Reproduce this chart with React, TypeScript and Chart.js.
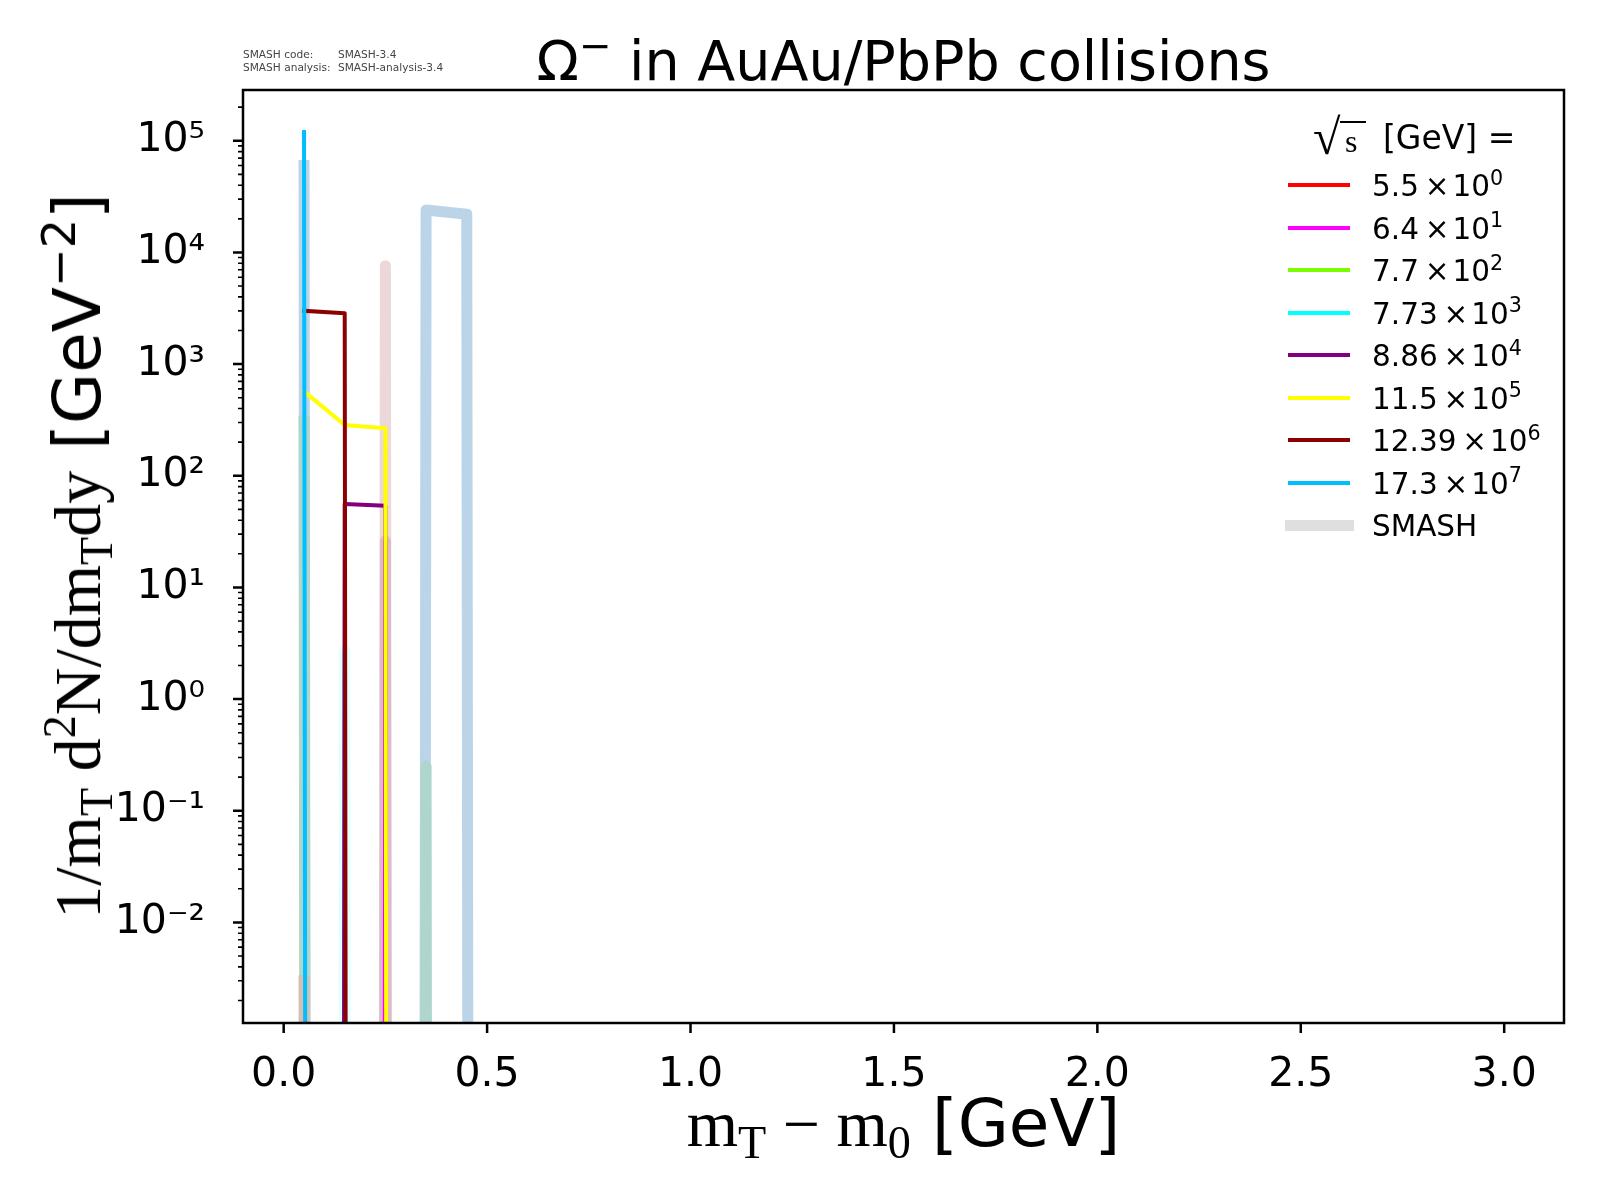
import React, { useEffect, useRef } from "react";
import { Chart, registerables } from "chart.js";

Chart.register(...registerables);

// bin centres of m_T - m_0 [GeV]
const BIN_CENTERS = [0.05, 0.15, 0.25, 0.35, 0.45, 0.55];

// sqrt(s) legend entries: mantissa x 10^exponent
const SQRT_S = ["5.5", "6.4", "7.7", "7.73", "8.86", "11.5", "12.39", "17.3"];
const SQRT_S_EXP = ["0", "1", "2", "3", "4", "5", "6", "7"];
const LINE_COLORS = ["red", "magenta", "lawngreen", "cyan", "purple", "yellow", "darkred", "deepskyblue"];

// spectra per energy (0 = empty bin)
const DATA_5_5 = [0, 0, 0, 0, 0, 0];
const DATA_6_4 = [0, 0, 26, 0, 0, 0];
const DATA_7_7 = [0, 0, 0, 0, 0, 0];
const DATA_7_73 = [0, 2.7, 0, 0, 0, 0];
const DATA_8_86 = [0, 56, 54, 0, 0, 0];
const DATA_11_5 = [570, 285, 266, 0, 0, 0];
const DATA_12_39 = [3000, 2850, 0, 0, 0, 0];
const DATA_17_3 = [120000, 0, 0, 0, 0, 0];

// SMASH curves (thick, pale)
const SMASH_BLUE = [60000, 0, 0, 24000, 22000, 0];
const SMASH_TEAL = [310, 0, 0, 0.25, 0, 0];
const SMASH_PINK = [0, 0, 7600, 0, 0, 0];
const SMASH_MAUVE = [0, 0, 26, 0, 0, 0];
const SMASH_CYAN = [0, 2.7, 0, 0, 0, 0];
const SMASH_TAN = [0.003, 0, 0, 0, 0, 0];

const X_TICKS = [0, 0.5, 1, 1.5, 2, 2.5, 3];
const Y_TICKS = [1e-2, 1e-1, 1, 1e1, 1e2, 1e3, 1e4, 1e5];
const X_MIN = -0.1;
const X_MAX = 3.147;
const Y_MIN = 1.256e-3;
const Y_MAX = 2.85e5;

const SANS = "'DejaVu Sans', sans-serif";
const SERIF = "'Liberation Serif', 'DejaVu Serif', serif";

const SUPER: Record<string, string> = { "-": "\u207B", "0": "\u2070", "1": "\u00B9", "2": "\u00B2", "3": "\u00B3", "4": "\u2074", "5": "\u2075" };

// log axis clips empty bins far below the frame, like matplotlib does
const toPoints = (arr: number[]) => BIN_CENTERS.map((x, i) => ({ x, y: arr[i] > 0 ? arr[i] : 1e-300 }));

const axesPlugin = {
  id: "mplAxes",
  afterDatasetsDraw(chart: any) {
    const { ctx, chartArea: a, scales } = chart;
    const xs = scales.x;
    const ys = scales.y;
    ctx.save();
    ctx.strokeStyle = "#000";
    ctx.lineCap = "butt";
    ctx.lineWidth = 2.5;
    ctx.beginPath();
    X_TICKS.forEach((v) => {
      const px = xs.getPixelForValue(v);
      ctx.moveTo(px, a.bottom);
      ctx.lineTo(px, a.bottom + 10);
    });
    Y_TICKS.forEach((v) => {
      const py = ys.getPixelForValue(v);
      ctx.moveTo(a.left, py);
      ctx.lineTo(a.left - 10, py);
    });
    ctx.stroke();
    ctx.lineWidth = 1.6;
    ctx.beginPath();
    for (let e = -3; e <= 5; e++) {
      for (let m = 2; m <= 9; m++) {
        const v = m * Math.pow(10, e);
        if (v < Y_MIN || v > Y_MAX) continue;
        const py = ys.getPixelForValue(v);
        ctx.moveTo(a.left, py);
        ctx.lineTo(a.left - 5, py);
      }
    }
    ctx.stroke();
    ctx.lineWidth = 2.5;
    ctx.strokeRect(a.left, a.top, a.right - a.left, a.bottom - a.top);
    ctx.restore();
  },
};

function Sup({ children }: { children: React.ReactNode }) {
  return <span style={{ fontSize: "0.7em", position: "relative", top: "-0.55em", lineHeight: 0 }}>{children}</span>;
}
function Sub({ children }: { children: React.ReactNode }) {
  return <span style={{ fontSize: "0.7em", position: "relative", top: "0.25em", lineHeight: 0 }}>{children}</span>;
}

export default function App() {
  const chartRef = useRef<HTMLCanvasElement>(null);

  useEffect(() => {
    if (!chartRef.current) return;

    const thin = (arr: number[], color: string, order: number) => ({
      data: toPoints(arr),
      borderColor: color,
      borderWidth: 4,
      order,
    });
    const thick = (arr: number[], color: string, order: number) => ({
      data: toPoints(arr),
      borderColor: color,
      borderWidth: 11,
      order,
    });

    const datasets = [
      thin(DATA_17_3, LINE_COLORS[7], 1),
      thin(DATA_12_39, LINE_COLORS[6], 2),
      thin(DATA_11_5, LINE_COLORS[5], 3),
      thin(DATA_8_86, LINE_COLORS[4], 4),
      thin(DATA_7_73, LINE_COLORS[3], 5),
      thin(DATA_7_7, LINE_COLORS[2], 6),
      thin(DATA_6_4, LINE_COLORS[1], 7),
      thin(DATA_5_5, LINE_COLORS[0], 8),
      thick(SMASH_TAN, "#d5beb3", 9),
      thick(SMASH_CYAN, "#e0ffff", 10),
      thick(SMASH_MAUVE, "#dcb9cd", 11),
      thick(SMASH_PINK, "#ecd8d8", 12),
      thick(SMASH_TEAL, "#aed6cc", 13),
      thick(SMASH_BLUE, "#bcd4e8", 14),
    ].map((d) => ({
      ...d,
      pointRadius: 0,
      tension: 0,
      clip: 0,
      fill: false,
      borderJoinStyle: "round",
      borderCapStyle: "square",
    }));

    const config: any = {
      type: "line",
      data: { datasets },
      options: {
        animation: false,
        responsive: false,
        devicePixelRatio: 1,
        layout: { padding: { left: 0, top: 90, right: 36, bottom: 0 } },
        plugins: { legend: { display: false }, title: { display: false }, tooltip: { enabled: false } },
        scales: {
          x: {
            type: "linear",
            min: X_MIN,
            max: X_MAX,
            afterBuildTicks: (scale: any) => {
              scale.ticks = X_TICKS.map((value) => ({ value }));
            },
            afterFit: (scale: any) => {
              scale.height = 177;
            },
            grid: { display: false },
            border: { display: false },
            ticks: {
              autoSkip: false,
              maxRotation: 0,
              padding: 20,
              color: "#000",
              font: { family: SANS, size: 41 },
              callback: (v: number) => v.toFixed(1),
            },
          },
          y: {
            type: "logarithmic",
            min: Y_MIN,
            max: Y_MAX,
            afterBuildTicks: (scale: any) => {
              scale.ticks = Y_TICKS.map((value) => ({ value }));
            },
            afterFit: (scale: any) => {
              scale.width = 243;
            },
            grid: { display: false },
            border: { display: false },
            ticks: {
              autoSkip: false,
              padding: 30,
              color: "#000",
              font: { family: SANS, size: 41 },
              callback: (v: number) =>
                "10" + String(Math.round(Math.log10(v))).split("").map((c) => SUPER[c]).join(""),
            },
          },
        },
      },
      plugins: [axesPlugin],
    };

    const chart = new Chart(chartRef.current, config);
    return () => {
      chart.destroy();
    };
  }, []);

  const rowTop = (i: number) => 185 + i * 42.5;

  return (
    <div style={{ position: "absolute", left: 0, top: 0, width: 1600, height: 1200, background: "#fff", fontFamily: SANS, color: "#000" }}>
      <canvas ref={chartRef} width={1600} height={1200} style={{ display: "block" }}></canvas>

      <div style={{ position: "absolute", left: 243, top: 48, fontSize: 10.6, lineHeight: "12.5px", color: "#444", whiteSpace: "pre" }}>
        <div>SMASH code:</div>
        <div>SMASH analysis:</div>
      </div>
      <div style={{ position: "absolute", left: 338, top: 48, fontSize: 10.6, lineHeight: "12.5px", color: "#444", whiteSpace: "pre" }}>
        <div>SMASH-3.4</div>
        <div>SMASH-analysis-3.4</div>
      </div>

      <div style={{ position: "absolute", left: 243, width: 1321, top: 33, fontSize: 55.5, lineHeight: "55px", textAlign: "center", whiteSpace: "nowrap" }}>
        Ω<Sup>−</Sup> in AuAu/PbPb collisions
      </div>

      <div style={{ position: "absolute", left: 243, width: 1321, top: 1091, fontSize: 66, lineHeight: "66px", textAlign: "center", whiteSpace: "nowrap" }}>
        <span style={{ fontFamily: SERIF }}>
          m<Sub>T</Sub> − m<Sub>0</Sub>
        </span>{" "}
        [GeV]
      </div>

      <div
        style={{
          position: "absolute",
          left: 78,
          top: 556,
          fontSize: 66,
          lineHeight: "66px",
          whiteSpace: "nowrap",
          transform: "translate(-50%, -50%) rotate(-90deg)",
        }}
      >
        <span style={{ fontFamily: SERIF }}>
          1/m<Sub>T</Sub> d<Sup>2</Sup>N/dm<Sub>T</Sub>dy
        </span>{" "}
        [GeV<Sup>−2</Sup>]
      </div>

      {/* legend title: sqrt(s) [GeV] = */}
      <div style={{ position: "absolute", left: 1313, top: 112, fontFamily: SERIF, fontSize: 50, lineHeight: "50px" }}>√</div>
      <div style={{ position: "absolute", left: 1340, top: 121, width: 26, height: 2, background: "#000" }} />
      <div style={{ position: "absolute", left: 1345, top: 125, fontFamily: SERIF, fontSize: 32, lineHeight: "32px" }}>s</div>
      <div style={{ position: "absolute", left: 1383, top: 121, fontSize: 33, lineHeight: "33px", whiteSpace: "pre" }}>[GeV] =</div>

      {SQRT_S.map((s, i) => (
        <React.Fragment key={s}>
          <div style={{ position: "absolute", left: 1288, top: rowTop(i) - 2, width: 62, height: 4, background: LINE_COLORS[i] }} />
          <div style={{ position: "absolute", left: 1372, top: rowTop(i) - 14, fontSize: 29.5, lineHeight: "30px", whiteSpace: "pre" }}>
            {s}
            {"\u2009×\u200A"}10<Sup>{SQRT_S_EXP[i]}</Sup>
          </div>
        </React.Fragment>
      ))}
      <div style={{ position: "absolute", left: 1285, top: rowTop(8) - 5.5, width: 69, height: 11, background: "#dfdfdf" }} />
      <div style={{ position: "absolute", left: 1372, top: rowTop(8) - 14, fontSize: 29.5, lineHeight: "30px" }}>SMASH</div>
    </div>
  );
}
